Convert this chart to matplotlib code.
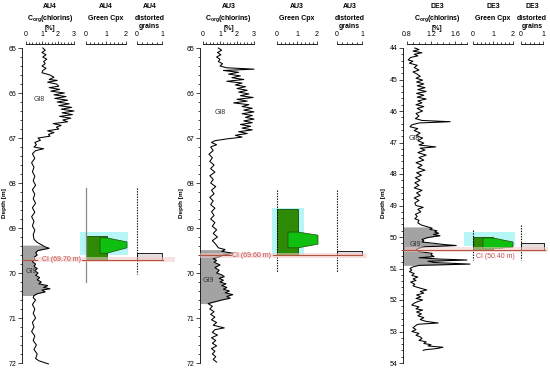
import numpy as np
import matplotlib
matplotlib.use("Agg")
import matplotlib.pyplot as plt
import matplotlib.transforms as mt
from matplotlib.ticker import FixedLocator, MultipleLocator, FormatStrFormatter

plt.rcParams['font.family'] = ['Liberation Sans', 'DejaVu Sans']

# ---------------- data ----------------
au4_depth = [65.00, 65.05, 65.10, 65.15, 65.20, 65.25, 65.30, 65.35, 65.40, 65.45, 65.50, 65.55,
             65.60, 65.65, 65.70, 65.72, 65.76, 65.80, 65.85, 65.88, 65.92, 65.96, 66.00, 66.04,
             66.08, 66.12, 66.16, 66.20, 66.24, 66.28, 66.32, 66.36, 66.40, 66.44, 66.48, 66.52,
             66.56, 66.60, 66.64, 66.68, 66.72, 66.76, 66.80, 66.84, 66.88, 66.92, 66.96, 67.00,
             67.05, 67.10, 67.15, 67.20, 67.24, 67.28, 67.35, 67.45, 67.55, 67.65, 67.75, 67.85,
             67.95, 68.05, 68.15, 68.25, 68.35, 68.45, 68.55, 68.65, 68.75, 68.85, 68.95, 69.05,
             69.15, 69.25, 69.32, 69.38, 69.42, 69.45, 69.50, 69.55, 69.60, 69.65, 69.70, 69.75,
             69.80, 69.85, 69.90, 69.95, 70.00, 70.05, 70.10, 70.15, 70.20, 70.24, 70.28, 70.32,
             70.35, 70.38, 70.42, 70.46, 70.50, 70.55, 70.60, 70.70, 70.80, 70.90, 71.00, 71.10,
             71.20, 71.30, 71.40, 71.50, 71.60, 71.70, 71.80, 71.90, 71.95, 72.02]
au4_chl = [1.05, 1.20, 1.00, 1.25, 1.05, 1.30, 1.10, 1.20, 1.00, 1.25, 1.05, 1.00,
           1.50, 1.75, 1.45, 1.95, 1.35, 1.90, 2.05, 1.45, 2.10, 1.55, 2.40, 1.75,
           2.50, 1.80, 2.60, 1.95, 2.70, 2.05, 2.85, 2.20, 3.00, 2.25, 2.90, 2.10,
           2.80, 2.30, 2.60, 1.70, 2.20, 1.90, 2.05, 1.35, 1.75, 1.40, 1.50, 0.75,
           0.90, 0.55, 0.65, 0.50, 1.10, 0.60, 0.40, 0.55, 0.35, 0.50, 0.40, 0.55,
           0.45, 0.60, 0.40, 0.55, 0.45, 0.60, 0.40, 0.55, 0.35, 0.50, 0.40, 0.55,
           0.45, 0.50, 0.70, 1.00, 1.20, 1.45, 0.75, 0.60, 0.70, 0.50, 0.55, 0.40,
           0.60, 0.50, 0.70, 0.55, 0.75, 0.60, 0.85, 0.70, 0.95, 0.80, 1.35, 1.10,
           1.50, 1.00, 1.20, 0.70, 0.50, 0.45, 0.60, 0.40, 0.55, 0.45, 0.60, 0.40,
           0.50, 0.35, 0.55, 0.45, 0.65, 0.50, 0.70, 0.60, 0.80, 1.40]

au3_depth = [65.00, 65.05, 65.10, 65.15, 65.20, 65.25, 65.30, 65.35, 65.40, 65.44, 65.47, 65.50,
             65.54, 65.58, 65.62, 65.66, 65.70, 65.74, 65.78, 65.82, 65.86, 65.90, 65.94, 65.98,
             66.02, 66.06, 66.10, 66.14, 66.18, 66.22, 66.26, 66.30, 66.34, 66.38, 66.42, 66.46,
             66.50, 66.54, 66.58, 66.62, 66.66, 66.70, 66.74, 66.78, 66.82, 66.86, 66.90, 66.94,
             66.98, 67.02, 67.06, 67.10, 67.15, 67.20, 67.28, 67.36, 67.44, 67.52, 67.60, 67.68,
             67.76, 67.84, 67.92, 68.00, 68.08, 68.16, 68.24, 68.32, 68.40, 68.48, 68.56, 68.64,
             68.72, 68.80, 68.88, 68.96, 69.04, 69.12, 69.20, 69.28, 69.36, 69.44, 69.48, 69.52,
             69.56, 69.60, 69.64, 69.68, 69.72, 69.76, 69.82, 69.88, 69.94, 70.00, 70.04, 70.08,
             70.12, 70.16, 70.20, 70.24, 70.28, 70.32, 70.36, 70.40, 70.44, 70.48, 70.52, 70.56,
             70.60, 70.64, 70.68, 70.74, 70.80, 70.86, 70.92, 70.98, 71.04, 71.10, 71.16, 71.22,
             71.26, 71.32, 71.38, 71.44, 71.50, 71.56, 71.62, 71.68, 71.74, 71.80, 71.86, 71.92,
             71.98]
au3_chl = [0.90, 1.10, 0.85, 1.05, 0.80, 1.00, 0.90, 1.15, 1.00, 1.40, 3.00, 1.20,
           2.10, 1.50, 2.20, 1.70, 2.40, 1.40, 2.30, 1.90, 2.50, 2.00, 2.60, 2.10,
           2.70, 2.20, 2.95, 2.00, 2.60, 1.80, 2.70, 2.30, 2.90, 2.40, 3.00, 2.30,
           2.90, 2.50, 3.00, 2.40, 2.90, 2.20, 2.80, 2.30, 2.90, 2.10, 2.60, 1.90,
           2.30, 1.40, 0.70, 0.50, 0.80, 0.45, 0.60, 0.35, 0.55, 0.40, 0.65, 0.45,
           0.70, 0.40, 0.60, 0.45, 0.75, 0.50, 0.65, 0.40, 0.60, 0.45, 0.70, 0.50,
           0.65, 0.45, 0.70, 0.55, 0.80, 0.60, 0.85, 0.55, 0.75, 0.90, 1.30, 1.10,
           1.75, 1.20, 0.95, 0.60, 0.80, 0.65, 1.00, 0.70, 0.95, 0.80, 1.10, 1.25,
           0.95, 1.20, 1.00, 1.35, 1.10, 1.40, 1.20, 1.55, 1.30, 1.75, 1.40, 1.60,
           1.10, 0.70, 0.30, 0.55, 0.40, 0.65, 0.45, 0.70, 0.50, 0.80, 0.60, 1.25,
           0.70, 0.55, 0.85, 0.50, 0.75, 0.55, 0.80, 0.50, 0.70, 0.55, 0.75, 0.60,
           0.80]

de3_depth = [44.00, 44.05, 44.10, 44.15, 44.20, 44.25, 44.30, 44.38, 44.42, 44.48, 44.55, 44.62,
             44.70, 44.76, 44.82, 44.90, 44.96, 45.02, 45.08, 45.14, 45.20, 45.26, 45.32, 45.38,
             45.44, 45.50, 45.56, 45.62, 45.68, 45.74, 45.80, 45.86, 45.92, 46.00, 46.08, 46.16,
             46.24, 46.30, 46.34, 46.38, 46.44, 46.50, 46.56, 46.62, 46.70, 46.78, 46.86, 46.94,
             47.02, 47.08, 47.14, 47.18, 47.24, 47.32, 47.40, 47.48, 47.56, 47.64, 47.72, 47.80,
             47.88, 47.96, 48.04, 48.12, 48.20, 48.28, 48.36, 48.44, 48.52, 48.60, 48.68, 48.76,
             48.84, 48.92, 49.00, 49.06, 49.12, 49.20, 49.28, 49.35, 49.42, 49.47, 49.55, 49.62,
             49.68, 49.72, 49.76, 49.80, 49.84, 49.88, 49.92, 49.96, 50.00, 50.03, 50.08, 50.12,
             50.16, 50.20, 50.24, 50.27, 50.31, 50.35, 50.41, 50.46, 50.52, 50.57, 50.62, 50.66,
             50.70, 50.73, 50.77, 50.81, 50.86, 50.90, 50.95, 51.00, 51.05, 51.10, 51.16, 51.22,
             51.27, 51.33, 51.38, 51.43, 51.50, 51.55, 51.59, 51.64, 51.68, 51.73, 51.78, 51.84,
             51.90, 51.95, 52.00, 52.05, 52.10, 52.16, 52.22, 52.28, 52.32, 52.38, 52.44, 52.50,
             52.56, 52.62, 52.68, 52.73, 52.77, 52.82, 52.88, 52.94, 53.00, 53.06, 53.12, 53.17,
             53.22, 53.28, 53.33, 53.38, 53.42, 53.46, 53.50, 53.54, 53.58, 53.60]
de3_chl = [0.93, 1.00, 0.90, 1.05, 0.92, 0.98, 0.86, 0.82, 0.90, 0.84, 0.97, 0.92,
           1.00, 0.90, 0.96, 1.02, 0.95, 1.06, 0.96, 1.08, 0.97, 1.10, 0.98, 1.12,
           0.96, 1.08, 0.97, 1.12, 0.98, 1.05, 0.95, 1.08, 0.97, 1.06, 0.95, 1.00,
           0.94, 1.05, 1.52, 1.00, 0.88, 0.85, 0.98, 0.92, 1.02, 0.95, 1.06, 0.98,
           1.08, 1.00, 1.28, 1.02, 1.10, 0.98, 1.12, 1.00, 1.08, 0.95, 1.05, 0.98,
           1.10, 0.96, 1.04, 0.94, 1.02, 0.93, 1.00, 0.92, 1.05, 0.96, 1.02, 0.92,
           1.00, 0.93, 0.95, 1.07, 0.98, 1.03, 0.94, 0.97, 0.93, 1.00, 0.98, 1.04,
           1.15, 1.22, 1.18, 1.30, 1.26, 1.33, 1.24, 1.35, 1.20, 1.12, 1.05, 1.08,
           1.05, 1.25, 1.42, 1.62, 1.10, 1.00, 0.95, 1.00, 1.22, 1.20, 1.25, 1.00,
           1.35, 1.80, 1.15, 1.25, 1.85, 1.00, 0.90, 0.85, 0.88, 0.84, 0.92, 0.88,
           0.98, 0.90, 0.95, 0.86, 0.93, 0.90, 0.96, 1.05, 1.13, 1.02, 1.08, 0.96,
           1.03, 0.95, 1.06, 0.98, 0.92, 0.88, 1.00, 0.95, 1.06, 0.96, 1.04, 0.98,
           1.08, 1.02, 1.12, 1.32, 0.98, 0.94, 0.90, 0.95, 0.88, 1.00, 0.95, 1.02,
           1.05, 1.00, 1.12, 1.08, 1.20, 1.15, 1.40, 1.30, 1.10, 1.07]

# GI9 interval (grey fill) top/bottom depth
au4_gi9 = [69.36, 70.50]
au3_gi9 = [69.48, 70.69]
de3_gi9 = [49.64, 50.93]

# Green Cpx: base step (depth top, depth bottom, value), peak polygon, highlight box
au4_cpx_base = [69.18, 69.72, 1.05]
au4_cpx_peak_depth = [69.22, 69.22, 69.31, 69.44, 69.56, 69.56]
au4_cpx_peak_val = [0.70, 1.05, 2.05, 2.05, 1.05, 0.70]
au4_cpx_glow = [69.09, 69.60, -0.30, 2.10]
au3_cpx_base = [68.58, 69.60, 1.05]
au3_cpx_peak_depth = [69.09, 69.09, 69.16, 69.36, 69.44, 69.44]
au3_cpx_peak_val = [0.55, 1.05, 2.05, 2.05, 1.05, 0.55]
au3_cpx_glow = [68.56, 69.62, -0.25, 1.35]
de3_cpx_base = [50.00, 50.41, 1.00]
de3_cpx_peak_depth = [50.03, 50.03, 50.16, 50.32, 50.38, 50.38]
de3_cpx_peak_val = [0.50, 1.00, 2.00, 2.00, 1.00, 0.50]
de3_cpx_glow = [49.84, 50.30, -0.45, 2.10]

# Distorted grains bar (depth top, depth bottom, value)
au4_dist = [69.55, 69.72, 1.00]
au3_dist = [69.50, 69.60, 1.00]
de3_dist = [50.20, 50.42, 1.05]

# sampled intervals (vertical guide lines)
au4_interval = [68.11, 70.20]
au4_dist_interval = [68.11, 70.02]
au3_interval = [68.16, 69.98]
au3_dist_interval = [68.16, 69.98]
de3_interval = [49.78, 50.73]
de3_dist_interval = [49.62, 50.73]

# CI depths
au4_ci = 69.70
au3_ci = 69.60
de3_ci = 50.40

# ---------------- layout helpers ----------------
W, H = 550, 370
fig = plt.figure(figsize=(5.5, 3.7), dpi=100)

FS = 5
CI_COLOR = '#b5533c'
CI_TEXT = '#c0504d'
PINK = '#f3c9c9'
GRAY = '#a3a3a3'
DARKGREEN = '#2f8a06'
BRIGHTGREEN = '#10c010'
CYAN = '#b6f6f6'


def px_axes(x0, width, y_top, y_bot):
    ax = fig.add_axes([x0 / W, (H - y_bot) / H, width / W, (y_bot - y_top) / H])
    ax.set_facecolor('none')
    return ax


def setup_ruler(ax, lo, hi, majors, minor_step, fmt='%g'):
    for s in ['left', 'right', 'bottom']:
        ax.spines[s].set_visible(False)
    ax.spines['top'].set_bounds(lo, hi)
    ax.spines['top'].set_linewidth(0.6)
    ax.xaxis.tick_top()
    ax.xaxis.set_major_locator(FixedLocator(majors))
    ax.xaxis.set_minor_locator(FixedLocator(np.arange(lo, hi + 1e-9, minor_step)))
    ax.xaxis.set_major_formatter(FormatStrFormatter(fmt))
    ax.tick_params(axis='x', which='major', length=2.5, width=0.5, labelsize=FS, pad=1.5)
    ax.tick_params(axis='x', which='minor', length=1.3, width=0.5)
    ax.set_yticks([])


def title_block(ax, x_mid, lines):
    tr = mt.blended_transform_factory(ax.transData, fig.transFigure)
    for text, ypx in lines:
        ax.text(x_mid, 1 - ypx / H, text, transform=tr, ha='center', va='center',
                fontsize=FS, fontweight='bold')


def panel(name, depth, chl, dtop, dbot, pxm, spine_px, zero_px, chl_lo, chl_hi, chl_scale,
          chl_majors, chl_minor, chl_fmt, gi9, gi8_xy, gi9_xy,
          green_zero, cpx_base, peak_d, peak_v, glow, interval, interval_style,
          dist_zero, dist_scale, dist, dist_interval, ci, ci_segments, ci_text_xy, band_px,
          depth_label_x, chl_width):
    y_top = 44
    y_bot = 48 + (dbot - dtop) * pxm
    ylim = (dbot, dtop - 4 / pxm)

    # --- Corg track with depth axis ---
    ax = px_axes(spine_px, chl_width, y_top, y_bot)
    xmin = chl_lo - (zero_px - spine_px) / chl_scale
    ax.set_xlim(xmin, xmin + chl_width / chl_scale)
    ax.set_ylim(*ylim)
    setup_ruler(ax, chl_lo, chl_hi, chl_majors, chl_minor, chl_fmt)
    ax.spines['left'].set_visible(True)
    ax.spines['left'].set_bounds(dtop, dbot)
    ax.spines['left'].set_linewidth(0.6)
    ax.yaxis.set_major_locator(MultipleLocator(1))
    ax.yaxis.set_minor_locator(MultipleLocator(0.2))
    ax.yaxis.set_major_formatter(FormatStrFormatter('%d'))
    ax.tick_params(axis='y', which='major', length=3, width=0.5, labelsize=FS, pad=1)
    ax.tick_params(axis='y', which='minor', length=1.5, width=0.5)
    d = np.array(depth)
    v = np.array(chl)
    mask = (d >= gi9[0]) & (d <= gi9[1])
    ax.fill_betweenx(d, xmin, v, where=mask, color=GRAY, lw=0, zorder=1)
    ax.plot(v, d, color='black', lw=0.75, zorder=3, clip_on=False)
    ax.text(gi8_xy[0], gi8_xy[1], 'GI8', fontsize=FS, color='#333333', va='center', zorder=4)
    ax.text(gi9_xy[0], gi9_xy[1], 'GI9', fontsize=FS, color='#333333', va='center', zorder=4)
    mid = (chl_lo + chl_hi) / 2
    title_block(ax, mid, [(name, 7), (r'C$_{\mathregular{org}}$(chlorins)', 19), ('[%]', 29)])
    fig.text(depth_label_x / W, 1 - 203 / H, 'Depth [m]', rotation=90, ha='center',
             va='center', fontsize=4.6, fontweight='bold')

    # --- Green Cpx track ---
    g_lo = -0.5
    ag = px_axes(green_zero + g_lo * 20, 2.7 * 20, y_top, y_bot)
    ag.set_xlim(g_lo, g_lo + 2.7)
    ag.set_ylim(*ylim)
    setup_ruler(ag, 0, 2, [0, 1, 2], 0.2)
    ag.fill_betweenx([glow[0], glow[1]], glow[2], glow[3], color=CYAN, lw=0, zorder=1)
    ag.fill_betweenx([cpx_base[0], cpx_base[1]], 0, cpx_base[2], facecolor=DARKGREEN,
                     edgecolor='#1d4a05', lw=0.6, zorder=2)
    ag.fill(peak_v, peak_d, facecolor=BRIGHTGREEN, edgecolor='#1d4a05', lw=0.5, zorder=3)
    if interval_style == 'solid':
        ag.plot([0, 0], interval, color='#8a8a8a', lw=0.9, zorder=4)
    else:
        ag.plot([0, 0], interval, color='black', lw=0.8, ls=(0, (1.2, 1.2)), zorder=4)
    title_block(ag, 1, [(name, 7), ('Green Cpx', 19)])

    # --- Distorted grains track ---
    ad = px_axes(dist_zero - 0.35 * dist_scale, 1.75 * dist_scale, y_top, y_bot)
    ad.set_xlim(-0.35, 1.4)
    ad.set_ylim(*ylim)
    setup_ruler(ad, 0, 1, [0, 1], 0.2)
    ad.fill_betweenx([dist[0], dist[1]], 0, dist[2], facecolor='#e4dede', edgecolor='black',
                     lw=0.6, zorder=2)
    ad.plot([0, 0], dist_interval, color='black', lw=0.8, ls=(0, (1.2, 1.2)), zorder=4)
    title_block(ad, 0.5, [(name, 7), ('distorted', 19), ('grains', 27)])

    # --- CI overlay ---
    ao = px_axes(0, W, y_top, y_bot)
    ao.set_xlim(0, W)
    ao.set_ylim(*ylim)
    ao.axis('off')
    bh = 2.5 / pxm
    ao.fill_between([band_px[0], band_px[1]], ci - bh, ci + bh, color=PINK, alpha=0.55,
                    lw=0, zorder=5)
    for x0, x1 in ci_segments:
        ao.plot([x0, x1], [ci, ci], color=CI_COLOR, lw=0.8, zorder=6)
    ao.text(ci_text_xy[0], ci_text_xy[1], 'CI (%.2f m)' % ci, fontsize=FS, color=CI_TEXT,
            ha='center', va='center', zorder=7)


panel('AU4', au4_depth, au4_chl, 65, 72, 45, 22, 26, 0, 3, 16, [0, 1, 2, 3], 0.2, '%g',
      au4_gi9, (0.45, 66.15), (0.0, 69.97),
      86, au4_cpx_base, au4_cpx_peak_depth, au4_cpx_peak_val, au4_cpx_glow, au4_interval, 'solid',
      137, 25, au4_dist, au4_dist_interval, au4_ci, [(22, 37), (82, 163)], (61, au4_ci),
      (33, 175), 5, 56)

panel('AU3', au3_depth, au3_chl, 65, 72, 45, 200, 203, 0, 3, 17, [0, 1, 2, 3], 0.2, '%g',
      au3_gi9, (0.7, 66.44), (0.0, 70.16),
      277, au3_cpx_base, au3_cpx_peak_depth, au3_cpx_peak_val, au3_cpx_glow, au3_interval, 'dashed',
      337, 25, au3_dist, au3_dist_interval, au3_ci, [(200, 231), (273, 362)], (252, au3_ci),
      (200, 367), 182, 62)

panel('DE3', de3_depth, de3_chl, 44, 54, 31.5, 403, 407, 0.8, 1.8, 60, [0.8, 1.2, 1.6], 0.1, '%.1f',
      de3_gi9, (0.83, 46.86), (0.85, 50.25),
      473, de3_cpx_base, de3_cpx_peak_depth, de3_cpx_peak_val, de3_cpx_glow, de3_interval, 'dashed',
      521, 22, de3_dist, de3_dist_interval, de3_ci, [(403, 545)], (495, de3_ci + 7 / 31.5),
      (405, 548), 383, 70)

fig.savefig('out.png', dpi=100)
